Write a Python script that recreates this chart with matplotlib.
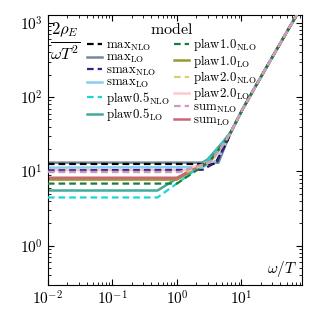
import matplotlib
matplotlib.use('Agg')
import matplotlib.pyplot as plt
import numpy as np

plt.rcParams['mathtext.fontset'] = 'cm'
plt.rcParams['font.family'] = 'serif'
plt.rcParams['font.serif'] = ['cmr10', 'DejaVu Serif']
plt.rcParams['axes.formatter.use_mathtext'] = True

# common UV tail shared by all models
w_uv = [7.0, 10.5, 20.0, 40.0, 72.0, 90.0]
y_uv = [35.0, 69.5, 186.0, 530.0, 1280.0, 1800.0]

# low-omega part of each model (omega/T, 2 rho_E / (omega T^2))
names = ['max', 'max', 'smax', 'smax', 'plaw0.5', 'plaw0.5',
         'plaw1.0', 'plaw1.0', 'plaw2.0', 'plaw2.0', 'sum', 'sum']
orders = ['NLO', 'LO'] * 6
w_ir = [
    [0.01, 3.9, 5.9],
    [0.01, 4.4, 5.9],
    [0.01, 2.5, 4.2, 5.8],
    [0.01, 2.5, 4.2, 5.8],
    [0.01, 0.5, 2.9, 5.2],
    [0.01, 0.5, 3.0, 5.3],
    [0.01, 1.0, 3.2, 5.5],
    [0.01, 1.0, 3.2, 5.5],
    [0.01, 1.4, 3.5, 5.6],
    [0.01, 1.4, 3.5, 5.6],
    [0.01, 1.1, 3.3, 5.6],
    [0.01, 1.0, 3.2, 5.5],
]
y_ir = [
    [12.56, 12.56, 24.5],
    [13.1, 13.1, 24.8],
    [10.3, 10.5, 13.5, 24.5],
    [11.2, 11.4, 14.0, 25.0],
    [4.45, 4.45, 13.4, 24.8],
    [5.52, 5.52, 14.5, 25.5],
    [6.84, 6.84, 13.5, 25.0],
    [7.74, 7.74, 13.8, 25.0],
    [9.8, 9.8, 13.5, 25.0],
    [10.4, 10.4, 14.0, 25.0],
    [9.8, 9.8, 13.5, 25.0],
    [8.2, 8.2, 13.5, 25.0],
]
colors = ['black', '#778899', '#332288', '#88CCEE', '#1ED4D4', '#44AA99',
          '#1E7B3A', '#999933', '#DDCC77', '#FFC8C8', '#CC99CC', '#CC6677']

fig = plt.figure(figsize=(3.17, 3.17), dpi=100)
ax = fig.add_axes([0.151, 0.1025, 0.802, 0.851])

for i in range(len(names)):
    w = np.array(w_ir[i] + w_uv)
    y = np.array(y_ir[i] + y_uv)
    label = r'$\mathrm{%s}_\mathrm{%s}$' % (names[i], orders[i])
    if orders[i] == 'NLO':
        ax.plot(w, y, color=colors[i], lw=1.6, dashes=(3, 1.8), label=label, zorder=3)
    else:
        ax.plot(w, y, color=colors[i], lw=1.8, label=label, zorder=2)

ax.set_xscale('log')
ax.set_yscale('log')
ax.set_xlim(0.01, 87)
ax.set_ylim(0.3, 1.28e3)
ax.tick_params(which='both', direction='in', top=True, right=True, labelsize=11)
ax.tick_params(which='major', length=4)
ax.tick_params(which='minor', length=2)

ax.text(0.01, 0.98, r'$\frac{2\rho_E}{\omega T^2}$', transform=ax.transAxes,
        ha='left', va='top', fontsize=17)
ax.text(0.98, 0.02, r'$\omega/T$', transform=ax.transAxes,
        ha='right', va='bottom', fontsize=11)

leg = ax.legend(ncol=2, title=r'$\mathrm{model}$', frameon=False, fontsize=9.2,
                title_fontsize=11.5, loc='upper left', bbox_to_anchor=(0.12, 1.01),
                handlelength=1.15, handletextpad=0.3, columnspacing=0.35,
                labelspacing=-0.05, borderpad=0.2)

fig.savefig('out.png', dpi=100)
